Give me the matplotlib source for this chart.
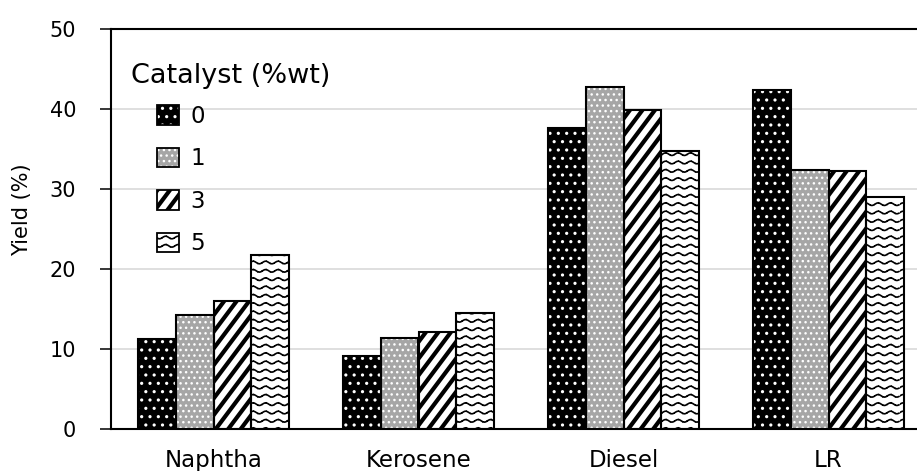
import numpy as np
import matplotlib
matplotlib.use("Agg")
import matplotlib as mpl
import matplotlib.pyplot as plt
import matplotlib.hatch as mhatch
from matplotlib.path import Path
from matplotlib.patches import Rectangle
from matplotlib.legend_handler import HandlerBase

# ---- data -------------------------------------------------------------
categories = ["Naphtha", "Kerosene", "Diesel", "LR"]
loadings = ["0", "1", "3", "5"]
yield_0 = [11.2, 9.1, 37.6, 42.4]
yield_1 = [14.2, 11.4, 42.7, 32.4]
yield_3 = [16.0, 12.1, 39.9, 32.2]
yield_5 = [21.7, 14.5, 34.7, 29.0]
y_ticks = [0, 10, 20, 30, 40, 50]

series = [yield_0, yield_1, yield_3, yield_5]


# ---- custom fill textures ---------------------------------------------
class SteepStripes(mhatch.HatchPatternBase):
    """Diagonal stripes ('/'), slightly steeper than 45 degrees."""

    def __init__(self, hatch, density):
        self.num_lines = int(hatch.count('/') * density * 4 / 3)
        self.num_vertices = (2 * self.num_lines + 2) * 2 if self.num_lines else 0

    def set_vertices_and_codes(self, vertices, codes):
        n = self.num_lines
        shift = round(0.75 * n) / n
        starts = np.arange(-n, n + 2) / n
        vertices[0::2, 0] = starts
        vertices[0::2, 1] = 0.0
        vertices[1::2, 0] = starts + shift
        vertices[1::2, 1] = 1.0
        codes[0::2] = Path.MOVETO
        codes[1::2] = Path.LINETO


class WaveRows(mhatch.HatchPatternBase):
    """Rows of small dashed waves ('*')."""
    n_seg = 96

    def __init__(self, hatch, density):
        self.num_rows = hatch.count('*') * density * 2
        self.num_vertices = self.num_rows * (self.n_seg + 1) if self.num_rows else 0

    def set_vertices_and_codes(self, vertices, codes):
        xs = np.linspace(0, 1, self.n_seg + 1)
        periods, amp = 8, 0.013
        step = self.n_seg + 1
        for i in range(self.num_rows):
            y0 = (i + 0.5) / self.num_rows
            sl = slice(i * step, (i + 1) * step)
            vertices[sl, 0] = xs
            vertices[sl, 1] = y0 + amp * np.sin(2 * np.pi * periods * xs)
            row_codes = np.full(step, Path.LINETO, dtype=codes.dtype)
            row_codes[::4] = Path.MOVETO
            codes[sl] = row_codes


mhatch._hatch_types = [
    SteepStripes if t is mhatch.NorthEastHatch else
    WaveRows if t is mhatch.Stars else t
    for t in mhatch._hatch_types
]


def set_hatch_width(patch, lw):
    if hasattr(patch, "set_hatch_linewidth"):
        patch.set_hatch_linewidth(lw)
    orig = patch.draw

    def draw(renderer, _orig=orig, _lw=lw):
        with mpl.rc_context({"hatch.linewidth": _lw}):
            _orig(renderer)
    patch.draw = draw


# ---- styles -----------------------------------------------------------
faces = ["black", "#a6a6a6", "white", "white"]
hatch_colors = ["white", "white", "black", "black"]
hatches = ["..", "...", "/", "*"]
hatch_widths = [1.1, 1.0, 3.0, 1.2]

plt.rcParams["font.family"] = ["DejaVu Sans"]

fig = plt.figure(figsize=(9.17, 4.71), dpi=100)
ax = fig.add_axes([111 / 917, 42 / 471, 820 / 917, 400 / 471])

x = np.arange(len(categories))
bar_w = 0.184
offsets = (np.arange(len(series)) - (len(series) - 1) / 2) * bar_w

fill_handles = []
for i, vals in enumerate(series):
    fills = ax.bar(x + offsets[i], vals, bar_w, color=faces[i],
                   edgecolor=hatch_colors[i], hatch=hatches[i], linewidth=0,
                   zorder=2)
    for p in fills:
        set_hatch_width(p, hatch_widths[i])
    ax.bar(x + offsets[i], vals, bar_w, fill=False, edgecolor="black",
           linewidth=1.5, zorder=3)
    fill_handles.append(fills[0])

ax.set_xlim(-0.5, len(categories) - 0.5)
ax.set_ylim(0, 50)
ax.set_yticks(y_ticks)
ax.set_xticks(x)
ax.set_xticklabels(categories, fontsize=16.5)
ax.tick_params(axis="x", length=0, pad=14.5)
ax.tick_params(axis="y", length=8, width=1.1, pad=17, labelsize=15,
               direction="out")
ax.yaxis.grid(True, color="#d9d9d9", linewidth=1.2, zorder=0)
ax.set_axisbelow(True)

for side in ("left", "bottom", "top"):
    ax.spines[side].set_linewidth(1.5)
    ax.spines[side].set_color("black")
ax.spines["right"].set_visible(False)

ax.set_ylabel("Yield (%)", fontsize=15)
ax.yaxis.set_label_coords(-0.096, 0.5475)


class SwatchHandler(HandlerBase):
    def __init__(self, face, hcolor, hatch, hlw):
        super().__init__()
        self.face, self.hcolor, self.hatch, self.hlw = face, hcolor, hatch, hlw

    def create_artists(self, legend, orig_handle, xdescent, ydescent,
                       width, height, fontsize, trans):
        fill = Rectangle((-xdescent, -ydescent), width, height,
                         facecolor=self.face, edgecolor=self.hcolor,
                         hatch=self.hatch, linewidth=0, transform=trans)
        set_hatch_width(fill, self.hlw)
        edge = Rectangle((-xdescent, -ydescent), width, height, fill=False,
                         edgecolor="black", linewidth=1.3, transform=trans)
        return [fill, edge]


handler_map = {h: SwatchHandler(faces[i], hatch_colors[i], hatches[i],
                                hatch_widths[i])
               for i, h in enumerate(fill_handles)}

ax.text(0.0244, 0.865, "Catalyst (%wt)", transform=ax.transAxes,
        fontsize=19.5, va="baseline", ha="left")
ax.legend(fill_handles, loadings, handler_map=handler_map, frameon=False,
          loc="upper left", bbox_to_anchor=(0.056, 0.81), borderpad=0,
          borderaxespad=0, fontsize=16.5, handlelength=0.95, handleheight=0.95,
          handletextpad=0.5, labelspacing=0.85)

fig.savefig("out.png", dpi=100)
